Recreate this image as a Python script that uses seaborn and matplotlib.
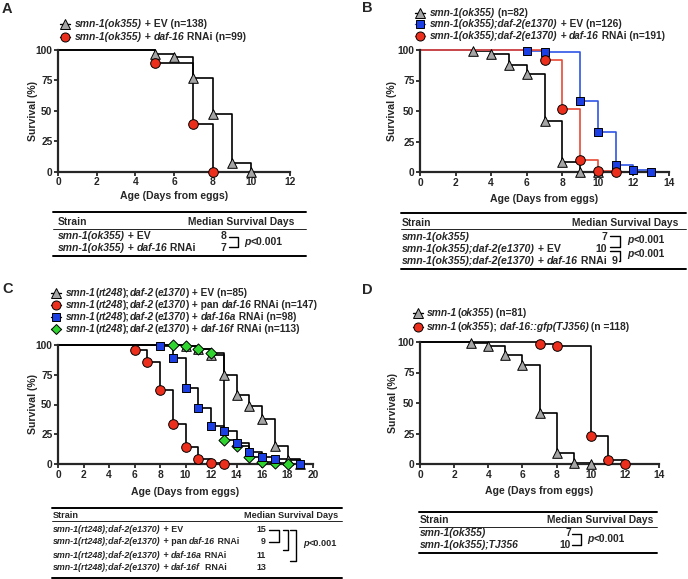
import matplotlib
matplotlib.use("Agg")
import matplotlib.pyplot as plt
import pandas as pd
import seaborn as sns
from matplotlib.lines import Line2D

# ---- data (days from eggs, % survival at each death step) ----
a_ev_days = [5, 6, 7, 8, 9, 10]
a_ev_surv = [97, 94, 77, 47, 7, 0]
a_rnai_days = [5, 7, 8]
a_rnai_surv = [89, 39, 0]

b_smn_days = [3, 4, 5, 6, 7, 8, 9, 10]
b_smn_surv = [99, 97, 88, 80, 42, 8, 0, 0]
b_ev_days = [6, 7, 9, 10, 11, 12, 13]
b_ev_surv = [99, 98, 58, 33, 6, 2, 0]
b_rnai_days = [7, 8, 9, 10, 11]
b_rnai_surv = [92, 52, 10, 1, 0]

c_ev_days = [10, 11, 12, 13, 14, 15, 16, 17, 18, 19]
c_ev_surv = [99, 97, 92, 75, 58, 49, 38, 15, 3, 0]
c_pan_days = [6, 7, 8, 9, 10, 11, 12, 13]
c_pan_surv = [96, 86, 62, 34, 14, 4, 1, 0]
c_a_days = [8, 9, 10, 11, 12, 13, 14, 15, 16, 17, 19]
c_a_surv = [99, 89, 64, 47, 32, 28, 18, 10, 6, 4, 0]
c_f_days = [9, 10, 11, 12, 13, 14, 15, 16, 17, 18]
c_f_surv = [100, 99, 97, 93, 20, 15, 6, 2, 1, 0]

d_smn_days = [3, 4, 5, 6, 7, 8, 9, 10]
d_smn_surv = [99, 97, 89, 81, 42, 9, 1, 0]
d_gfp_days = [7, 8, 10, 11, 12]
d_gfp_surv = [98, 97, 23, 3, 0]

W, H = 688, 579
GRAY = "#a5a5a5"
RED = "#ec2f1c"
BLUE = "#1b3fe2"
GREEN = "#2fd42f"

sns.set_style("ticks")
plt.rcParams["font.family"] = ["Liberation Sans", "DejaVu Sans"]
plt.rcParams["font.weight"] = "bold"

fig = plt.figure(figsize=(W / 100, H / 100), dpi=100)
R = fig.canvas.get_renderer()


def px_axes(x0, x1, ytop, ybot):
    return fig.add_axes([x0 / W, 1 - ybot / H, (x1 - x0) / W, (ybot - ytop) / H])


def curve(ax, days, surv, marker, face, line="black", ms=48):
    df = pd.DataFrame({"day": [0] + days, "surv": [100] + surv})
    sns.lineplot(data=df, x="day", y="surv", drawstyle="steps-post", color=line,
                 lw=1.2, estimator=None, sort=False, ax=ax, clip_on=False)
    pts = pd.DataFrame({"day": days, "surv": surv})
    sns.scatterplot(data=pts, x="day", y="surv", marker=marker, color=face, s=ms,
                    edgecolor="black", linewidth=0.7, ax=ax, clip_on=False, zorder=5)


def setup(ax, xmax, ylab_x, xlab_y):
    ax.set_xlim(0, xmax)
    ax.set_ylim(0, 100)
    ax.set_xticks(range(0, xmax + 1, 2))
    ax.set_yticks([0, 25, 50, 75, 100])
    sns.despine(ax=ax)
    for sp in ["left", "bottom"]:
        ax.spines[sp].set_linewidth(1.6)
    ax.tick_params(width=1.3, length=3, labelsize=7.4, pad=1)
    for t in ax.get_xticklabels() + ax.get_yticklabels():
        t.set_fontweight("bold")
    ax.set_xlabel("")
    ax.set_ylabel("")
    bb = ax.get_position()
    cx = (bb.x0 + bb.x1) / 2
    cy = (bb.y0 + bb.y1) / 2
    fig.text(ylab_x / W, cy, "Survival (%)", rotation=90, ha="center", va="center",
             fontsize=7.6, fontweight="bold")
    fig.text(cx, 1 - xlab_y / H, "Age (Days from eggs)", ha="center", va="center",
             fontsize=7.6, fontweight="bold")


def seg_width(s, size, style):
    t = fig.text(0, 0, s + "|", fontsize=size, fontweight="bold", fontstyle=style)
    t2 = fig.text(0, 0, "|", fontsize=size, fontweight="bold", fontstyle=style)
    w = t.get_window_extent(R).width - t2.get_window_extent(R).width
    t.remove()
    t2.remove()
    return w


def rich(x, y, parts, size, ha="left"):
    widths = [seg_width(s, size, "italic" if st == "i" else "normal") for s, st in parts]
    cx = x - sum(widths) if ha == "right" else x
    for (s, st), w in zip(parts, widths):
        fig.text(cx / W, 1 - y / H, s, fontsize=size, fontweight="bold",
                 fontstyle="italic" if st == "i" else "normal", va="center", ha="left")
        cx += w


def hline(x0, x1, y, lw=1.0):
    fig.add_artist(Line2D([x0 / W, x1 / W], [1 - y / H, 1 - y / H], color="black", lw=lw))


def bracket(x0, x1, y0, y1, xlow=None):
    xlow = x0 if xlow is None else xlow
    fig.add_artist(Line2D([x0 / W, x1 / W, x1 / W, xlow / W],
                          [1 - y0 / H, 1 - y0 / H, 1 - y1 / H, 1 - y1 / H],
                          color="black", lw=1.0))


def legend_item(x, y, marker, face, line="black", ms=6.5):
    fig.add_artist(Line2D([(x - 5) / W, (x + 5) / W], [1 - y / H, 1 - y / H], color=line, lw=1.0))
    fig.add_artist(Line2D([x / W], [1 - y / H], marker=marker, color=face, ms=ms,
                          markeredgecolor="black", markeredgewidth=0.7, lw=0))


def letter(x, y, s):
    fig.text(x / W, 1 - y / H, s, fontsize=10.5, fontweight="bold", ha="left", va="center")


# ---------------- Panel A ----------------
axA = px_axes(58, 290, 50, 171.5)
curve(axA, a_ev_days, a_ev_surv, "^", GRAY)
curve(axA, a_rnai_days, a_rnai_surv, "o", RED)
setup(axA, 12, 33, 196)
letter(2, 9, "A")
legend_item(65, 24, "^", GRAY)
rich(75, 24, [("smn-1(ok355)", "i"), (" + EV (n=138)", "n")], 7.5)
legend_item(65, 37, "o", RED)
rich(75, 37, [("smn-1(ok355)", "i"), (" + ", "n"), ("daf-16", "i"), (" RNAi (n=99)", "n")], 7.5)

hline(53, 306, 212, 1.4)
rich(58, 222, [("Strain", "n")], 7.4)
rich(294, 222, [("Median Survival Days", "n")], 7.4, ha="right")
hline(53, 306, 229, 0.6)
rich(58, 236, [("smn-1(ok355)", "i"), (" + EV", "n")], 7.5)
rich(58, 248, [("smn-1(ok355)", "i"), (" + ", "n"), ("daf-16", "i"), (" RNAi", "n")], 7.5)
rich(226, 236, [("8", "n")], 7.5, ha="right")
rich(226, 248, [("7", "n")], 7.5, ha="right")
bracket(229, 238, 237, 247)
rich(244, 242, [("p", "i"), ("<0.001", "n")], 7.5)
hline(53, 306, 256, 1.4)

# ---------------- Panel B ----------------
axB = px_axes(420, 669, 50, 172)
curve(axB, b_smn_days, b_smn_surv, "^", GRAY, "black")
curve(axB, b_ev_days, b_ev_surv, "s", BLUE, "#2f55e8", ms=40)
curve(axB, b_rnai_days, b_rnai_surv, "o", RED, "#e84a35")
setup(axB, 14, 392, 199)
letter(362, 8, "B")
legend_item(420, 13, "^", GRAY)
rich(430, 13, [("smn-1(ok355)", "i"), (" (n=82)", "n")], 7.3)
legend_item(420, 24, "s", BLUE, "#2f55e8", ms=5.8)
rich(430, 24, [("smn-1(ok355);daf-2(e1370)", "i"), (" + EV (n=126)", "n")], 7.3)
legend_item(420, 36, "o", RED, "#e84a35")
rich(430, 36, [("smn-1(ok355);daf-2(e1370)", "i"), (" + ", "n"), ("daf-16", "i"),
               (" RNAi (n=191)", "n")], 7.3)

hline(401, 686, 213, 1.4)
rich(402, 223, [("Strain", "n")], 7.4)
rich(678, 223, [("Median Survival Days", "n")], 7.4, ha="right")
hline(401, 686, 229, 0.6)
rich(402, 237, [("smn-1(ok355)", "i")], 7.6)
rich(402, 249, [("smn-1(ok355);daf-2(e1370)", "i"), (" + EV", "n")], 7.6)
rich(402, 261, [("smn-1(ok355);daf-2(e1370)", "i"), (" + ", "n"), ("daf-16", "i"),
                (" RNAi", "n")], 7.6)
rich(607, 237, [("7", "n")], 7.6, ha="right")
rich(607, 249, [("10", "n")], 7.6, ha="right")
rich(618, 261, [("9", "n")], 7.6, ha="right")
bracket(610, 620, 236, 247)
bracket(610, 620, 251, 261, xlow=619)
rich(627, 240, [("p", "i"), ("<0.001", "n")], 7.4)
rich(627, 254, [("p", "i"), ("<0.001", "n")], 7.4)
hline(401, 686, 269, 1.4)

# ---------------- Panel C ----------------
axC = px_axes(58, 313, 345, 464)
curve(axC, c_ev_days, c_ev_surv, "^", GRAY)
curve(axC, c_pan_days, c_pan_surv, "o", RED)
curve(axC, c_f_days, c_f_surv, "D", GREEN, ms=32)
curve(axC, c_a_days, c_a_surv, "s", BLUE, ms=38)
setup(axC, 20, 33, 492)
letter(2, 289, "C")
strain_c = [("smn-1", "i"), ("(", "n"), ("rt248", "i"), (");", "n"), ("daf-2", "i"),
            ("(", "n"), ("e1370", "i"), (")", "n")]
legend_item(56, 293, "^", GRAY)
rich(66, 293, strain_c + [(" + EV (n=85)", "n")], 7.25)
legend_item(56, 305, "o", RED)
rich(66, 305, strain_c + [(" + pan ", "n"), ("daf-16", "i"), (" RNAi (n=147)", "n")], 7.25)
legend_item(56, 317, "s", BLUE, ms=5.8)
rich(66, 317, strain_c + [(" + ", "n"), ("daf-16a", "i"), (" RNAi (n=98)", "n")], 7.25)
legend_item(56, 329, "D", GREEN, ms=5.2)
rich(66, 329, strain_c + [(" + ", "n"), ("daf-16f", "i"), (" RNAi (n=113)", "n")], 7.25)

strain_ct = [("smn-1(rt248);daf-2(e1370)", "i")]
hline(52, 342, 508, 1.4)
rich(53, 516, [("Strain", "n")], 6.6)
rich(338, 516, [("Median Survival Days", "n")], 6.6, ha="right")
hline(52, 342, 521, 0.6)
rich(53, 530, strain_ct + [(" + EV", "n")], 6.4)
rich(53, 542, strain_ct + [(" + pan ", "n"), ("daf-16", "i"), (" RNAi", "n")], 6.4)
rich(53, 555, strain_ct + [(" + ", "n"), ("daf-16a", "i"), (" RNAi", "n")], 6.4)
rich(53, 567, strain_ct + [(" + ", "n"), ("daf-16f", "i"), ("  RNAi", "n")], 6.4)
for yy, v in zip([530, 542, 555, 567], ["15", "9", "11", "13"]):
    rich(266, yy, [(v, "n")], 6.4, ha="right")
bracket(269, 279, 530, 542)
bracket(283, 288, 530, 550)
bracket(290, 296, 530, 561)
rich(303, 543, [("p", "i"), ("<0.001", "n")], 6.6)
hline(52, 342, 578, 1.4)

# ---------------- Panel D ----------------
axD = px_axes(420, 659, 342, 464)
curve(axD, d_smn_days, d_smn_surv, "^", GRAY)
curve(axD, d_gfp_days, d_gfp_surv, "o", RED)
setup(axD, 14, 393, 491)
letter(362, 290, "D")
legend_item(418, 313, "^", GRAY)
rich(427, 313, [("smn-1", "i"), ("(", "n"), ("ok355", "i"), (")", "n"), (" (n=81)", "n")], 7.4)
legend_item(418, 327, "o", RED)
rich(427, 327, [("smn-1", "i"), ("(", "n"), ("ok355", "i"), (");", "n"),
                (" daf-16::gfp(TJ356)", "i"), (" (n =118)", "n")], 7.4)

hline(419, 657, 512, 1.4)
rich(420, 520, [("Strain", "n")], 7.4)
rich(653, 520, [("Median Survival Days", "n")], 7.4, ha="right")
hline(419, 657, 527, 0.6)
rich(420, 533, [("smn-1(ok355)", "i")], 7.4)
rich(420, 545, [("smn-1(ok355);TJ356", "i")], 7.4)
rich(571, 533, [("7", "n")], 7.4, ha="right")
rich(571, 545, [("10", "n")], 7.4, ha="right")
bracket(572, 581, 534, 545)
rich(587, 539, [("p", "i"), ("<0.001", "n")], 7.4)
hline(419, 657, 553, 1.4)

fig.savefig("out.png", dpi=100)
